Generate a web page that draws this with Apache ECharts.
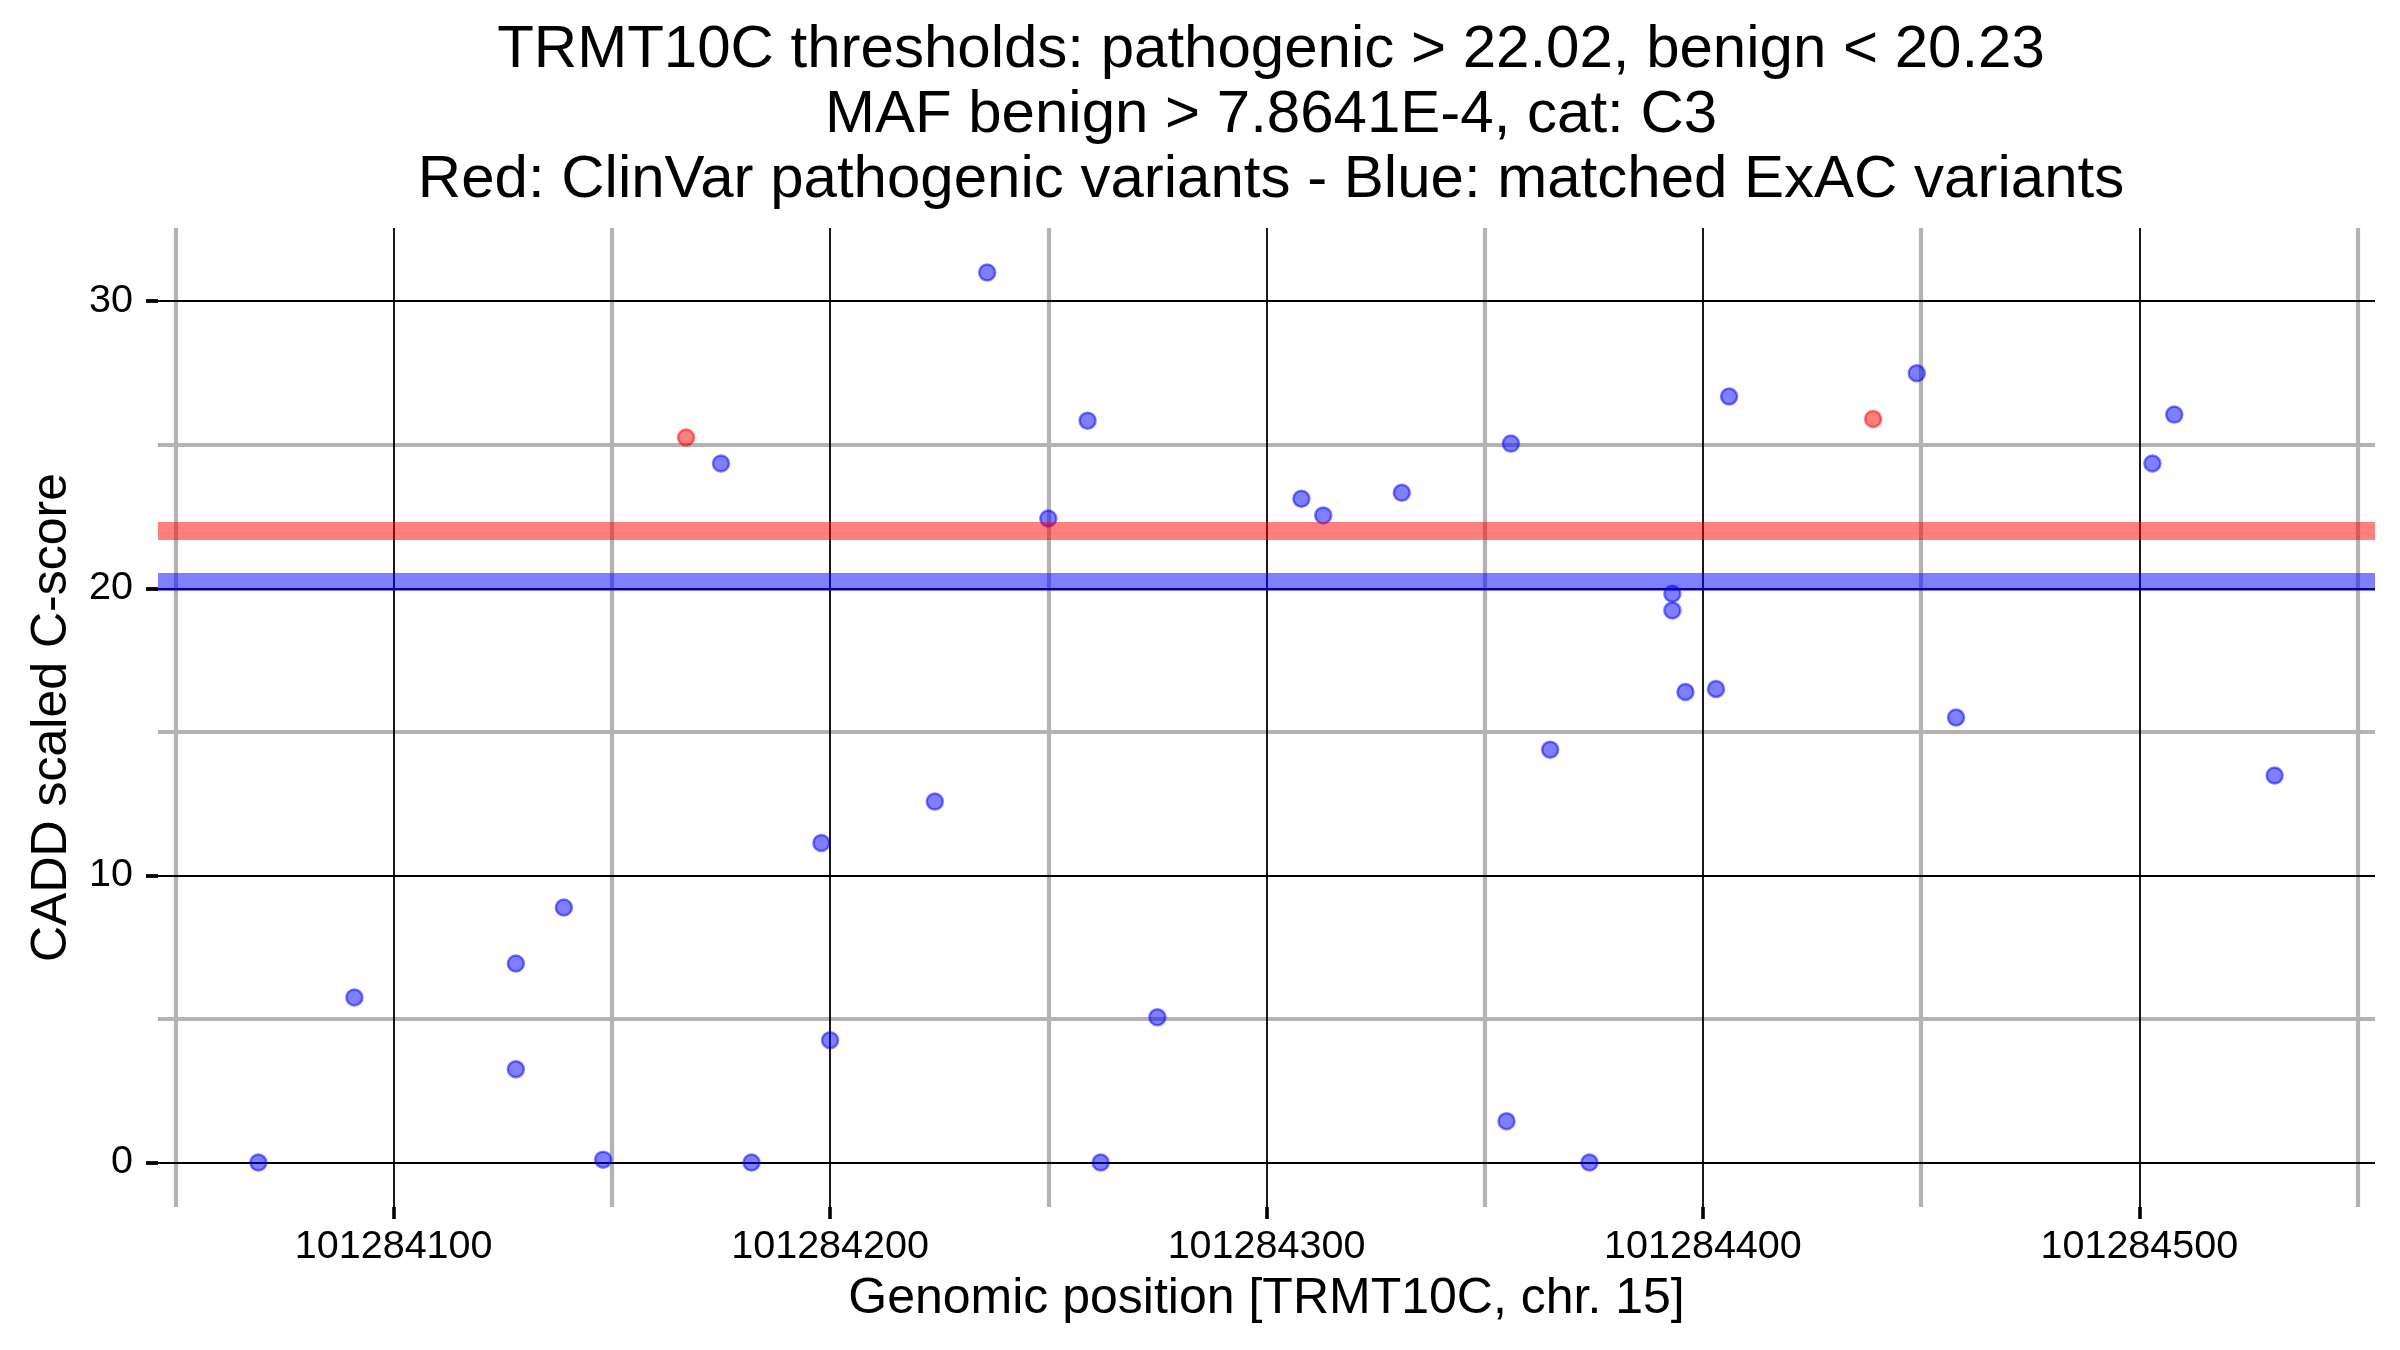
<!DOCTYPE html>
<html>
<head>
<meta charset="utf-8">
<script src="https://cdn.jsdelivr.net/npm/echarts@6/dist/echarts.min.js"></script>
<style>
html,body{margin:0;padding:0;background:#fff;}
#chart{width:2400px;height:1350px;}
</style>
</head>
<body>
<div id="chart"></div>
<script>
// ---- data ----
const titleLines = [
  'TRMT10C thresholds: pathogenic > 22.02, benign < 20.23',
  'MAF benign > 7.8641E-4, cat: C3',
  'Red: ClinVar pathogenic variants - Blue: matched ExAC variants'
];
const xAxisTitle = 'Genomic position [TRMT10C, chr. 15]';
const yAxisTitle = 'CADD scaled C-score';

const xTicks = [101284100, 101284200, 101284300, 101284400, 101284500];
const xMinor = [101284050, 101284150, 101284250, 101284350, 101284450, 101284550];
const yTicks = [0, 10, 20, 30];
const yMinor = [5, 15, 25];
const xRange = [101284046, 101284554];
const yRange = [-1.55, 32.55];

const thresholdPathogenic = 22.02;
const thresholdBenign = 20.23;

const exacPos = [101284069, 101284091, 101284128, 101284128, 101284139, 101284148, 101284175, 101284182,
  101284198, 101284200, 101284224, 101284236, 101284250, 101284259, 101284262, 101284275,
  101284308, 101284313, 101284331, 101284355, 101284356, 101284365, 101284374, 101284393,
  101284393, 101284396, 101284403, 101284406, 101284449, 101284458, 101284503, 101284508, 101284531];
const exacScore = [0, 5.75, 6.93, 3.25, 8.88, 0.1, 24.35, 0,
  11.13, 4.26, 12.57, 31.0, 22.43, 25.84, 0, 5.06,
  23.12, 22.54, 23.33, 1.44, 25.04, 14.38, 0, 19.81,
  19.23, 16.39, 16.49, 26.68, 27.49, 15.5, 24.35, 26.05, 13.48];
const clinvarPos = [101284167, 101284439];
const clinvarScore = [25.25, 25.9];

// ---- chart ----
const FONT = '"Liberation Sans", Arial, Helvetica, sans-serif';
const chart = echarts.init(document.getElementById('chart'));
const zip = (a, b) => a.map((v, i) => [v, b[i]]);
const noLabel = {show: false};

function gridLines(name, xs, ys, color, width, z) {
  return {
    name: name, type: 'scatter', data: [], silent: true,
    markLine: {
      silent: true, symbol: ['none', 'none'], z: z, animation: false,
      label: noLabel, emphasis: {disabled: true},
      lineStyle: {color: color, width: width, type: 'solid'},
      data: xs.map(v => ({xAxis: v})).concat(ys.map(v => ({yAxis: v})))
    }
  };
}

chart.setOption({
  animation: false,
  backgroundColor: '#ffffff',
  textStyle: {fontFamily: FONT},
  title: {
    text: titleLines.join('\n'),
    left: 1266, top: 13, textAlign: 'center',
    textStyle: {fontFamily: FONT, fontSize: 60, fontWeight: 'normal', color: '#000', lineHeight: 65}
  },
  grid: {left: 158, right: 25, top: 228, bottom: 143, containLabel: false},
  xAxis: {
    type: 'value', min: xRange[0], max: xRange[1], position: 'bottom',
    name: xAxisTitle, nameLocation: 'middle', nameGap: 67,
    nameTextStyle: {fontFamily: FONT, fontSize: 50, color: '#000'},
    axisLine: {show: false, onZero: false},
    splitLine: {show: false},
    axisTick: {show: true, customValues: xTicks, length: 12, inside: false, lineStyle: {color: '#000', width: 3.6}},
    axisLabel: {customValues: xTicks, margin: 20, fontSize: 39.5, color: '#000', fontFamily: FONT,
      formatter: v => String(v)}
  },
  yAxis: {
    type: 'value', min: yRange[0], max: yRange[1], position: 'left',
    name: yAxisTitle, nameLocation: 'middle', nameGap: 81,
    nameTextStyle: {fontFamily: FONT, fontSize: 50, color: '#000'},
    axisLine: {show: false, onZero: false},
    splitLine: {show: false},
    axisTick: {show: true, customValues: yTicks, length: 12, inside: false, lineStyle: {color: '#000', width: 3.8}},
    axisLabel: {customValues: yTicks, margin: 25, fontSize: 39.5, color: '#000', fontFamily: FONT,
      formatter: v => String(v)}
  },
  series: [
    gridLines('minorGrid', xMinor, yMinor, '#b3b3b3', 4.2, 1),
    gridLines('majorGrid', xTicks, yTicks, '#000000', 1.8, 1.5),
    {
      name: 'ExAC', type: 'scatter', z: 2, symbol: 'circle', symbolSize: 16,
      data: zip(exacPos, exacScore),
      itemStyle: {color: 'rgba(0,0,255,0.5)', borderColor: 'rgba(0,0,255,0.5)', borderWidth: 2.5, opacity: 1},
      emphasis: {disabled: true}
    },
    {
      name: 'ClinVar', type: 'scatter', z: 2, symbol: 'circle', symbolSize: 16,
      data: zip(clinvarPos, clinvarScore),
      itemStyle: {color: 'rgba(255,0,0,0.5)', borderColor: 'rgba(255,0,0,0.5)', borderWidth: 2.5, opacity: 1},
      emphasis: {disabled: true}
    },
    {
      name: 'thresholds', type: 'scatter', data: [], silent: true,
      markLine: {
        silent: true, symbol: ['none', 'none'], z: 5, animation: false,
        label: noLabel, emphasis: {disabled: true},
        data: [
          {yAxis: thresholdPathogenic, lineStyle: {color: 'rgba(255,0,0,0.5)', width: 18, type: 'solid'}},
          {yAxis: thresholdBenign, lineStyle: {color: 'rgba(0,0,255,0.5)', width: 18, type: 'solid'}}
        ]
      }
    }
  ]
});
</script>
</body>
</html>
